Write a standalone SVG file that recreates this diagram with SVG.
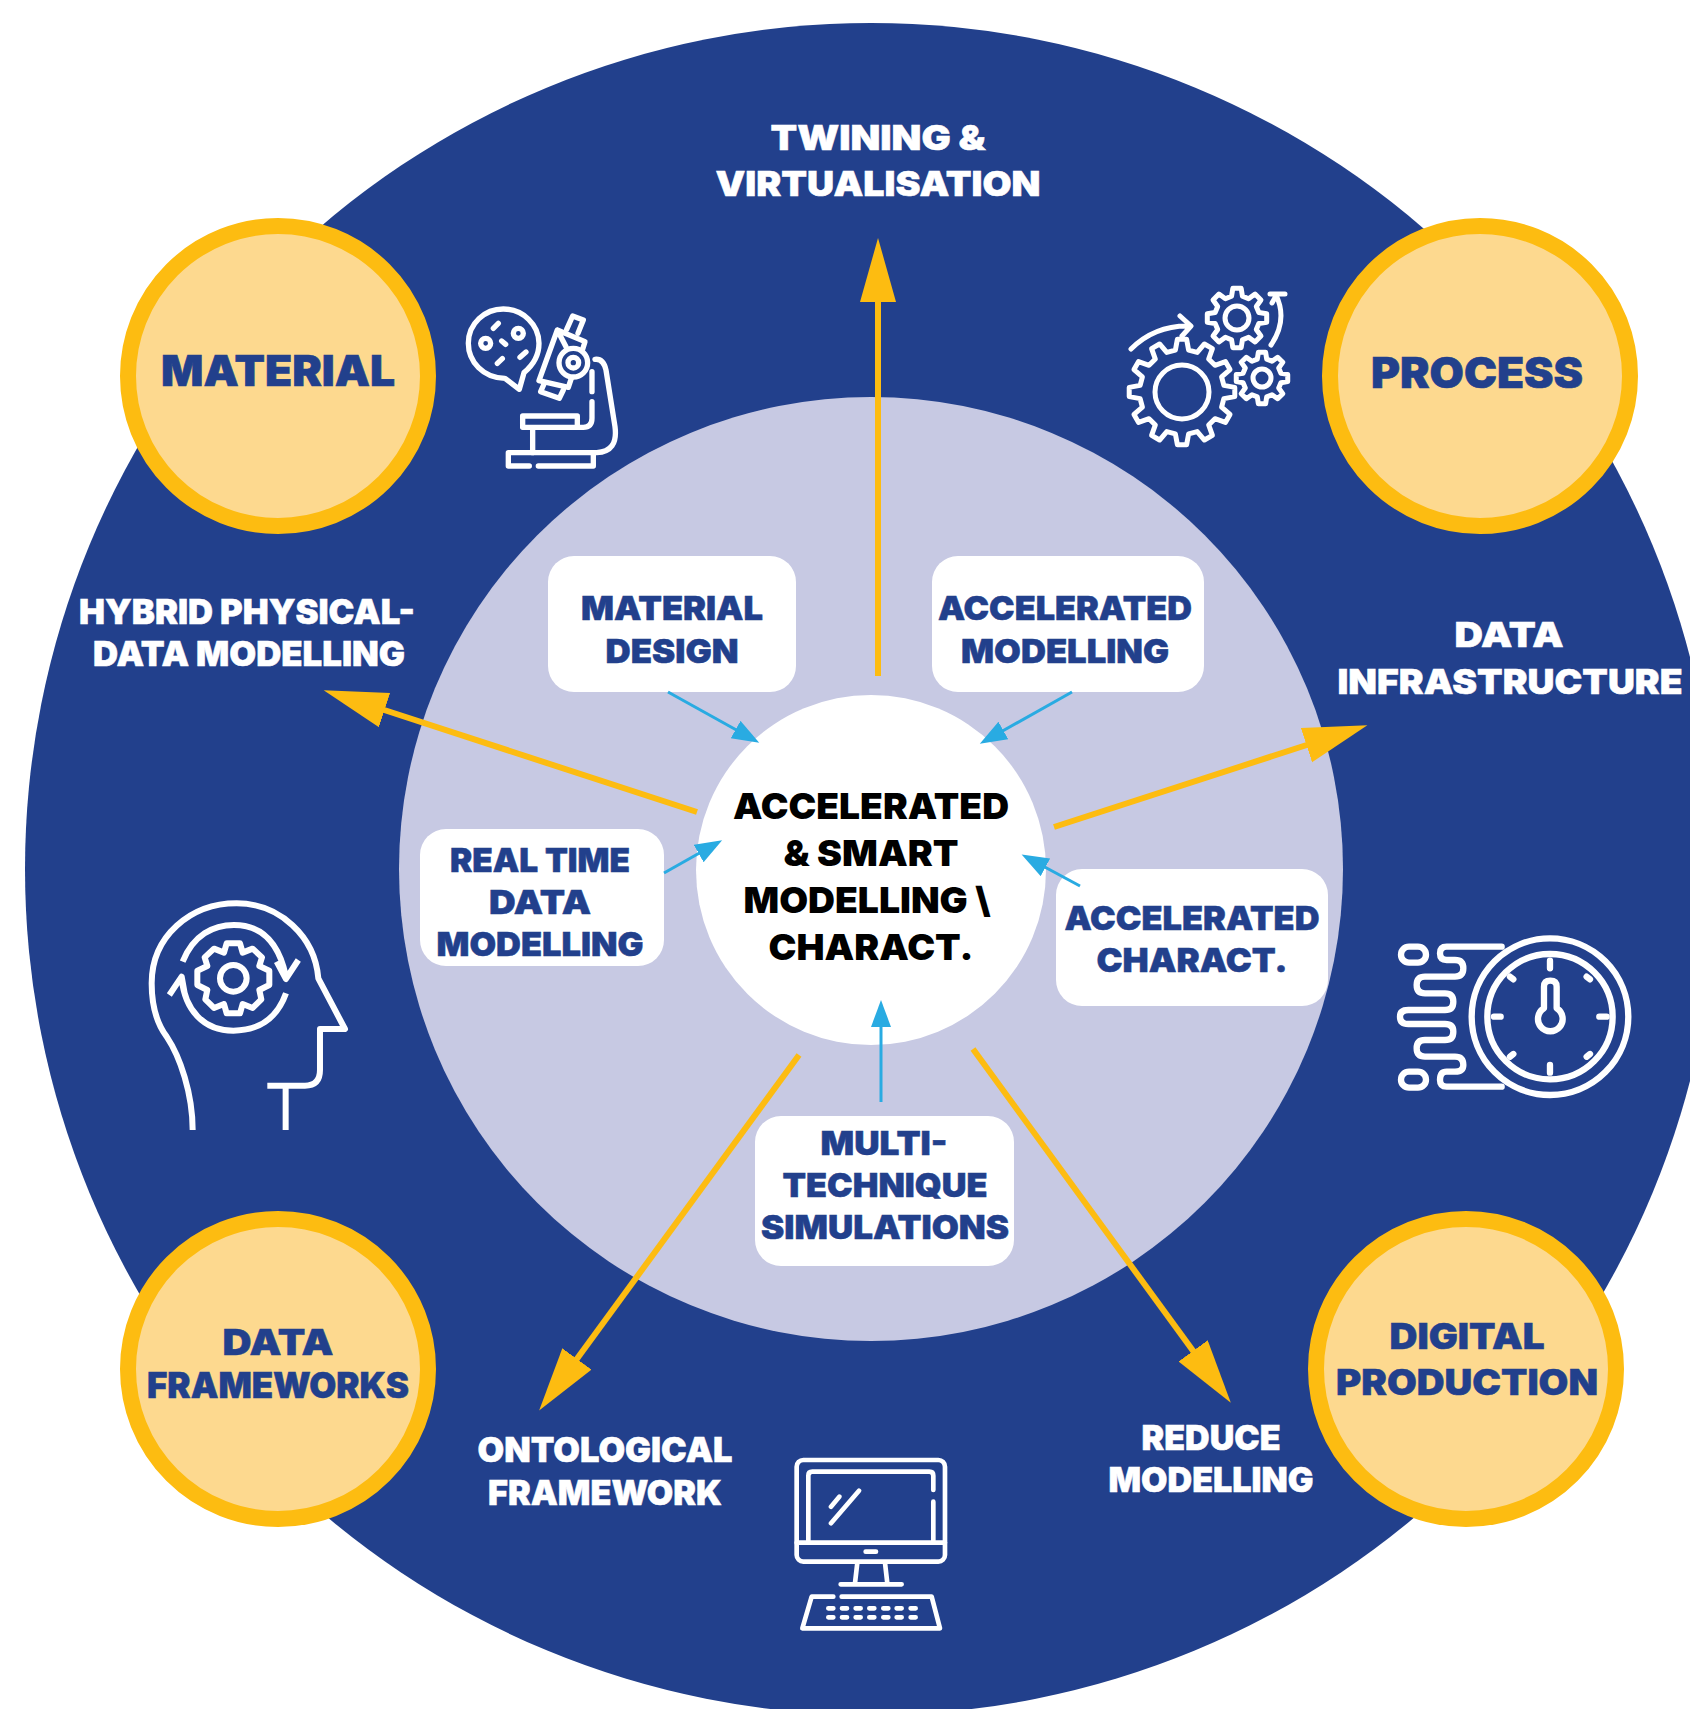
<svg xmlns="http://www.w3.org/2000/svg" xmlns:xlink="http://www.w3.org/1999/xlink" width="1690" height="1709" viewBox="0 0 1690 1709">
<style>
text{font-family:"Inter","Liberation Sans",sans-serif;font-weight:900;text-anchor:middle}
.w{fill:#fff;stroke:#fff;stroke-width:.5px;font-size:34px}
.b{fill:#22408c;stroke:#22408c;stroke-width:.5px;font-size:33px}
.k{fill:#000;font-size:36px}
.c{fill:#22408c;stroke:#22408c;stroke-width:.6px;font-size:42px}
.c2{fill:#22408c;stroke:#22408c;stroke-width:.5px;font-size:35px}
.ring{fill:#fdd98f;stroke:#fdbc11;stroke-width:16}
.box{fill:#fff}
.y{stroke:#fdbc11;stroke-width:6;fill:none}
.s{stroke:#29abe2;stroke-width:3;fill:none}
.ic{fill:none;stroke:#fff;stroke-linecap:round;stroke-linejoin:round}
.gf{fill:none;stroke:#fff;stroke-width:5;stroke-linejoin:round;vector-effect:non-scaling-stroke}
</style>
<defs>
<marker id="ya" markerUnits="userSpaceOnUse" markerWidth="66" markerHeight="38" refX="10" refY="18" orient="auto"><path d="M0 0L64 18L0 36Z" fill="#fdbc11"/></marker>
<marker id="sa" markerUnits="userSpaceOnUse" markerWidth="32" markerHeight="22" refX="5" refY="10" orient="auto"><path d="M0 0L27 10L0 20Z" fill="#29abe2"/></marker>
<path id="g12" class="gf" d="M79 -12.5L99.6 -8.7L99.6 8.7L79 12.5L74.7 28.7L90.6 42.3L81.9 57.4L62.2 50.3L50.3 62.2L57.4 81.9L42.3 90.6L28.7 74.7L12.5 79L8.7 99.6L-8.7 99.6L-12.5 79L-28.7 74.7L-42.3 90.6L-57.4 81.9L-50.3 62.2L-62.2 50.3L-81.9 57.4L-90.6 42.3L-74.7 28.7L-79 12.5L-99.6 8.7L-99.6 -8.7L-79 -12.5L-74.7 -28.7L-90.6 -42.3L-81.9 -57.4L-62.2 -50.3L-50.3 -62.2L-57.4 -81.9L-42.3 -90.6L-28.7 -74.7L-12.5 -79L-8.7 -99.6L8.7 -99.6L12.5 -79L28.7 -74.7L42.3 -90.6L57.4 -81.9L50.3 -62.2L62.2 -50.3L81.9 -57.4L90.6 -42.3L74.7 -28.7Z"/>
<path id="g8" class="gf" d="M72.8 -18.1L99 -13.9L99 13.9L72.8 18.1L64.3 38.6L79.9 60.2L60.2 79.9L38.6 64.3L18.1 72.8L13.9 99L-13.9 99L-18.1 72.8L-38.6 64.3L-60.2 79.9L-79.9 60.2L-64.3 38.6L-72.8 18.1L-99 13.9L-99 -13.9L-72.8 -18.1L-64.3 -38.6L-79.9 -60.2L-60.2 -79.9L-38.6 -64.3L-18.1 -72.8L-13.9 -99L13.9 -99L18.1 -72.8L38.6 -64.3L60.2 -79.9L79.9 -60.2L64.3 -38.6Z"/>
</defs>
<rect width="1690" height="1709" fill="#fff"/>
<circle id="outer" cx="871" cy="869" r="846" fill="#22408c"/>
<circle id="middle" cx="871" cy="869" r="472" fill="#c7c9e3"/>
<circle id="centre-disc" cx="871" cy="870" r="175" fill="#fff"/>
<g id="centre"><text class="k" x="871" y="819" textLength="276" lengthAdjust="spacingAndGlyphs">ACCELERATED</text><text class="k" x="871" y="866" textLength="175" lengthAdjust="spacingAndGlyphs">&amp; SMART</text><text class="k" x="867" y="913" textLength="247" lengthAdjust="spacingAndGlyphs">MODELLING \</text><text class="k" x="871" y="960" textLength="205" lengthAdjust="spacingAndGlyphs">CHARACT.</text></g>
<g id="material-design"><rect class="box" x="548" y="556" width="248" height="136" rx="26"/><text class="b" x="672" y="620" textLength="182" lengthAdjust="spacingAndGlyphs">MATERIAL</text><text class="b" x="672" y="663" textLength="133" lengthAdjust="spacingAndGlyphs">DESIGN</text></g>
<g id="accelerated-modelling"><rect class="box" x="932" y="556" width="272" height="136" rx="26"/><text class="b" x="1065" y="620" textLength="254" lengthAdjust="spacingAndGlyphs">ACCELERATED</text><text class="b" x="1065" y="663" textLength="208" lengthAdjust="spacingAndGlyphs">MODELLING</text></g>
<g id="real-time"><rect class="box" x="420" y="829" width="244" height="137" rx="26"/><text class="b" x="540" y="872" textLength="180" lengthAdjust="spacingAndGlyphs">REAL TIME</text><text class="b" x="540" y="914" textLength="102" lengthAdjust="spacingAndGlyphs">DATA</text><text class="b" x="540" y="956" textLength="207" lengthAdjust="spacingAndGlyphs">MODELLING</text></g>
<g id="accelerated-charact"><rect class="box" x="1056" y="869" width="272" height="137" rx="26"/><text class="b" x="1192" y="930" textLength="255" lengthAdjust="spacingAndGlyphs">ACCELERATED</text><text class="b" x="1192" y="972" textLength="191" lengthAdjust="spacingAndGlyphs">CHARACT.</text></g>
<g id="multi-technique"><rect class="box" x="755" y="1116" width="259" height="150" rx="26"/><text class="b" x="884" y="1155" textLength="127" lengthAdjust="spacingAndGlyphs">MULTI-</text><text class="b" x="885" y="1197" textLength="205" lengthAdjust="spacingAndGlyphs">TECHNIQUE</text><text class="b" x="885" y="1239" textLength="248" lengthAdjust="spacingAndGlyphs">SIMULATIONS</text></g>
<g id="material"><circle class="ring" cx="278" cy="376" r="150"/><text class="c" x="278" y="386" textLength="234" lengthAdjust="spacingAndGlyphs">MATERIAL</text></g>
<g id="process"><circle class="ring" cx="1480" cy="376" r="150"/><text class="c" x="1477" y="388" textLength="212" lengthAdjust="spacingAndGlyphs">PROCESS</text></g>
<g id="data-frameworks"><circle class="ring" cx="278" cy="1369" r="150"/><text class="c2" x="278" y="1355" textLength="111" lengthAdjust="spacingAndGlyphs">DATA</text><text class="c2" x="278" y="1398" textLength="262" lengthAdjust="spacingAndGlyphs">FRAMEWORKS</text></g>
<g id="digital-production"><circle class="ring" cx="1466" cy="1369" r="150"/><text class="c2" x="1467" y="1349" textLength="155" lengthAdjust="spacingAndGlyphs">DIGITAL</text><text class="c2" x="1467" y="1395" textLength="262" lengthAdjust="spacingAndGlyphs">PRODUCTION</text></g>
<g id="twining"><text class="w" x="878" y="150" textLength="215" lengthAdjust="spacingAndGlyphs">TWINING &amp;</text><text class="w" x="878" y="196" textLength="325" lengthAdjust="spacingAndGlyphs">VIRTUALISATION</text></g>
<g id="hybrid"><text class="w" x="247" y="624" textLength="336" lengthAdjust="spacingAndGlyphs">HYBRID PHYSICAL-</text><text class="w" x="249" y="666" textLength="312" lengthAdjust="spacingAndGlyphs">DATA MODELLING</text></g>
<g id="data-infrastructure"><text class="w" x="1509" y="647" textLength="109" lengthAdjust="spacingAndGlyphs">DATA</text><text class="w" x="1510" y="694" textLength="345" lengthAdjust="spacingAndGlyphs">INFRASTRUCTURE</text></g>
<g id="ontological"><text class="w" x="605" y="1462" textLength="255" lengthAdjust="spacingAndGlyphs">ONTOLOGICAL</text><text class="w" x="605" y="1505" textLength="234" lengthAdjust="spacingAndGlyphs">FRAMEWORK</text></g>
<g id="reduce"><text class="w" x="1211" y="1450" textLength="139" lengthAdjust="spacingAndGlyphs">REDUCE</text><text class="w" x="1211" y="1492" textLength="205" lengthAdjust="spacingAndGlyphs">MODELLING</text></g>
<g id="icon-microscope" class="ic" transform="translate(440 280) scale(.3333)" stroke-width="16">
<path d="M195 295C130 295 85 245 85 190C85 130 135 87 190 87C250 87 297 135 297 190C297 225 280 255 252 278L238 328Z"/>
<circle cx="137" cy="190" r="15"/><circle cx="235" cy="160" r="15"/>
<path d="M160 145L175 130M185 183L197 193M172 250L187 236M240 232L258 216"/>
<path d="M378 200L352 150L297 302L385 322M385 322L394 295M352 150L435 185L428 208"/>
<circle cx="400" cy="248" r="43"/><circle cx="400" cy="248" r="16"/>
<path d="M380 148L398 108L430 120L414 160M312 312L302 335L358 355L370 330"/>
<path d="M465 238Q490 235 498 270L525 440Q535 515 470 518H205V558H268M295 558H460V520"/>
<path d="M248 408H412V442H248ZM412 442H430Q456 442 456 415V365M456 335V275M278 445V518"/>
</g>
<g id="icon-gears" transform="translate(1110 270)">
<use xlink:href="#g12" transform="translate(72 122) scale(.53)"/><circle class="gf" cx="72" cy="122" r="27"/>
<use xlink:href="#g8" transform="translate(127 48) scale(.3)"/><circle class="gf" cx="127" cy="48" r="12"/>
<use xlink:href="#g8" transform="translate(152 108) scale(.26)"/><circle class="gf" cx="152" cy="108" r="9"/>
<path class="ic" stroke-width="5" d="M21 79Q45 55 80 56M70 46L81 56L72 66M161 75Q178 50 166 25M160 24H175M167 24L162 33"/>
</g>
<g id="icon-head" class="ic" transform="translate(130 880) scale(.3333)" stroke-width="18" style="stroke-linecap:butt">
<path d="M188 750C188 640 150 530 110 470C80 430 65 370 65 310C65 170 180 70 320 70C450 70 555 170 565 295L645 447H570V570Q570 617 525 617H412M467 617V750"/>
<path d="M158 245C190 165 250 135 312 135C390 135 445 180 468 290M505 240L468 297L440 245"/>
<path d="M468 340C440 420 380 452 310 452C220 452 165 390 155 295M118 345L155 290L165 345"/>
<path d="M290 190H330L338 218L368 206L396 232L388 258L418 272V315L388 330L394 358L368 384L338 372L330 400H290L282 372L252 384L226 358L232 330L202 315V272L232 258L224 232L252 206L282 218Z"/>
<circle cx="310" cy="295" r="40"/>
</g>
<g id="icon-timer" class="ic" transform="translate(1380 920) scale(.3333)" stroke-width="19">
<circle cx="510" cy="290" r="235"/><circle cx="510" cy="290" r="188"/>
<path d="M510 122V145M510 435V458M342 290H362M658 290H680M390 170L400 178M630 178L620 170M390 410L400 402M630 402L620 410"/>
<path d="M492 265V200Q492 182 511 182Q530 182 530 200V265A37 37 0 1 1 492 265Z"/>
<path d="M365 80H200Q180 80 180 100Q180 120 200 120H225Q250 120 250 145Q250 170 225 170H135Q110 170 110 195Q110 220 135 220H195Q220 220 220 245Q220 270 195 270H85Q60 270 60 290Q60 312 85 312H195Q220 312 220 335Q220 360 195 360H135Q110 360 110 385Q110 410 135 410H225Q250 410 250 435Q250 455 225 455H200Q180 455 180 480Q180 500 200 500H365"/>
<rect x="63" y="80" width="75" height="48" rx="24"/><rect x="63" y="455" width="75" height="48" rx="24"/>
</g>
<g id="icon-computer" class="ic" transform="translate(770 1440) scale(.3333)" stroke-width="14">
<rect x="80" y="60" width="445" height="305" rx="20"/><path d="M80 308H525M115 300V107Q115 95 127 95H478Q490 95 490 107V150M490 185V300"/>
<path d="M183 250L267 152M183 200L208 170M287 335H318M262 368L255 430M345 368L352 430M212 433H395"/>
<path d="M190 470H125L97 565H510L485 470H215"/>
<path d="M175 505H190M216 505H231M257 505H272M298 505H313M340 505H355M380 505H395M422 505H437M175 532H190M216 532H231M257 532H272M298 532H313M340 532H355M380 532H395M422 532H437"/>
</g>
<g id="connectors">
<path class="y" d="M878 676V292" marker-end="url(#ya)"/>
<path class="y" d="M697 812L375 707" marker-end="url(#ya)"/>
<path class="y" d="M1054 827L1316 742" marker-end="url(#ya)"/>
<path class="y" d="M799 1055L571 1367" marker-end="url(#ya)"/>
<path class="y" d="M973 1049L1199 1359" marker-end="url(#ya)"/>
<path class="s" d="M668 692L740 732" marker-end="url(#sa)"/>
<path class="s" d="M1072 692L999 733" marker-end="url(#sa)"/>
<path class="s" d="M664 873L703 851" marker-end="url(#sa)"/>
<path class="s" d="M1080 886L1041 865" marker-end="url(#sa)"/>
<path class="s" d="M881 1102V1022" marker-end="url(#sa)"/>
</g>
</svg>
